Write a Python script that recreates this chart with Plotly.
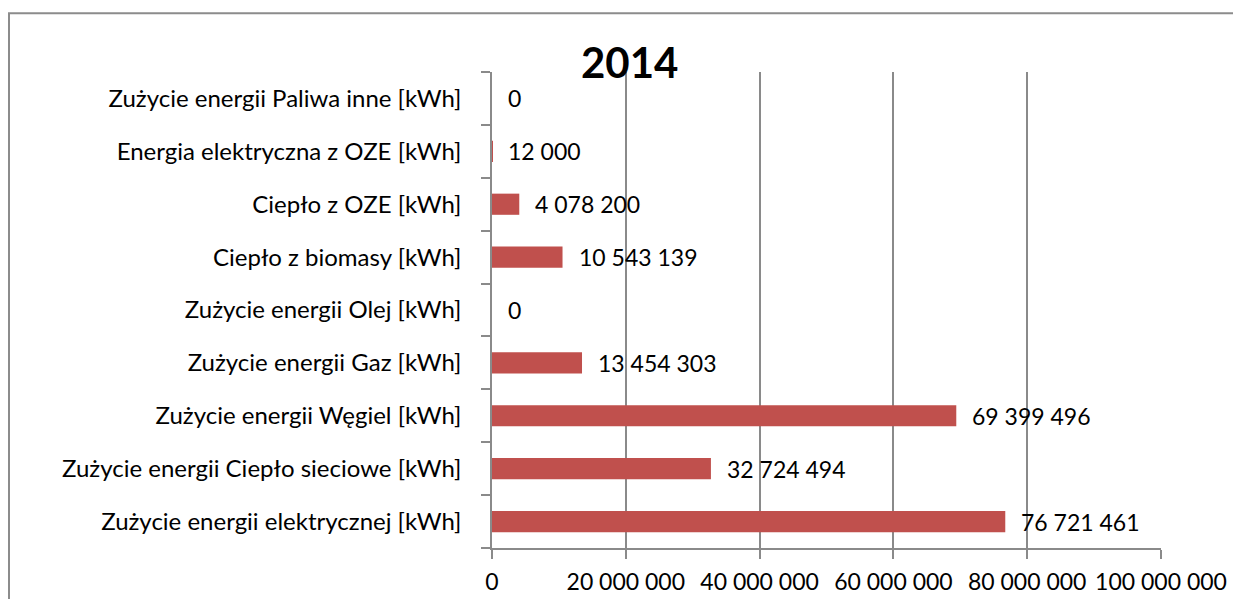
import plotly.graph_objects as go

categories = [
    "Zużycie energii elektrycznej [kWh]",
    "Zużycie energii Ciepło sieciowe [kWh]",
    "Zużycie energii Węgiel [kWh]",
    "Zużycie energii Gaz [kWh]",
    "Zużycie energii Olej [kWh]",
    "Ciepło z biomasy [kWh]",
    "Ciepło z OZE [kWh]",
    "Energia elektryczna z OZE [kWh]",
    "Zużycie energii Paliwa inne [kWh]",
]
values = [76721461, 32724494, 69399496, 13454303, 0, 10543139, 4078200, 12000, 0]
x_ticks = [0, 20000000, 40000000, 60000000, 80000000, 100000000]
title_text = "2014"


def fmt(v):
    return f"{v:,}".replace(",", " ")


FONT = "Lato"
OFF = 8  # default page body margin in the browser
W, H = 1241, 599
PW, PH = 669, 479
L, T = 492 - OFF, 72 - OFF
R, B = W - L - PW, H - T - PH

fig = go.Figure()
fig.add_trace(go.Bar(
    y=categories, x=values, orientation="h",
    marker=dict(color="#C0504D", line=dict(width=0), opacity=0.999),
    width=0.4, showlegend=False, hoverinfo="x+y",
))

annotations = []
for c, v in zip(categories, values):
    annotations.append(dict(
        x=v, y=c, xref="x", yref="y", text=fmt(v), showarrow=False,
        xanchor="left", yanchor="middle", xshift=14,
        font=dict(family=FONT, size=23, color="#000000"),
    ))

annotations.append(dict(
    x=(629 - 492) / PW, y=1 - (62 - 72) / PH, xref="paper", yref="paper",
    text="<b>" + title_text + "</b>",
    showarrow=False, xanchor="center", yanchor="middle",
    font=dict(family=FONT, size=42, color="#000000"),
))

shapes = [dict(
    type="rect", xref="paper", yref="paper", layer="below",
    x0=(9 - 492) / PW, x1=(1260 - 492) / PW,
    y0=1 - (620 - 72) / PH, y1=1 - (13 - 72) / PH,
    line=dict(color="#8C8C8C", width=2), fillcolor="rgba(0,0,0,0)",
)]

fig.update_layout(
    width=W, height=H,
    margin=dict(l=L, r=R, t=T, b=B, pad=0),
    paper_bgcolor="white", plot_bgcolor="white",
    separators=", ",
    font=dict(family=FONT, size=23, color="#000000"),
    annotations=annotations, shapes=shapes,
    bargap=0.6,
)
fig.update_xaxes(
    range=[0, 100000000], tickvals=x_ticks, ticktext=[fmt(v) for v in x_ticks],
    showgrid=True, gridcolor="#8A8A8A", gridwidth=1.5,
    showline=True, linecolor="#8A8A8A", linewidth=1.5,
    ticks="outside", ticklen=9, tickcolor="#8A8A8A", tickwidth=1.5,
    ticklabelstandoff=4,
    zeroline=False, tickfont=dict(family=FONT, size=23, color="#000000"),
)
fig.update_yaxes(
    categoryorder="array", categoryarray=categories,
    showgrid=False, showline=True, linecolor="#8A8A8A", linewidth=1.5,
    ticks="outside", ticklen=9, tickcolor="#8A8A8A", tickwidth=1.5,
    tickson="boundaries", ticklabelstandoff=24,
    tickfont=dict(family=FONT, size=24, color="#000000"),
)

fig.write_html("out.html")
